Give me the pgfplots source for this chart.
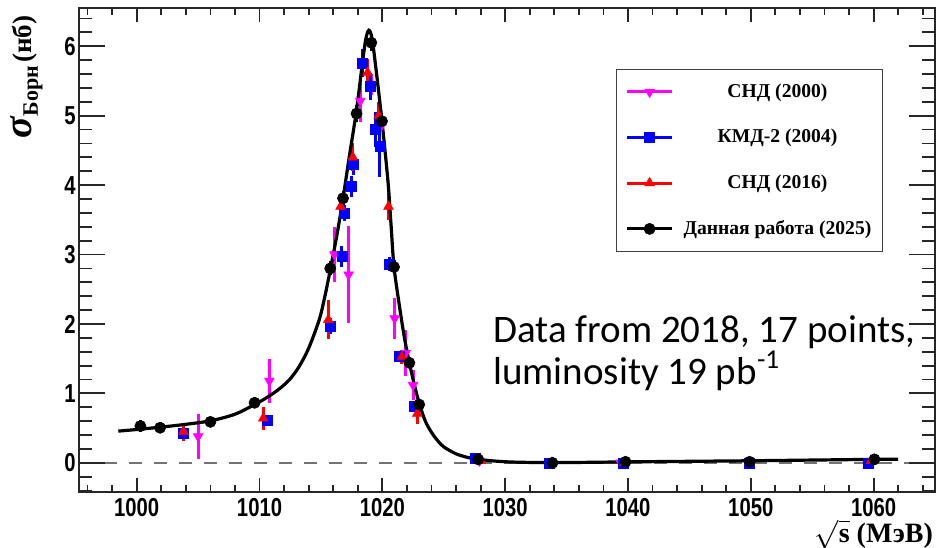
\documentclass[border=0pt]{standalone}
\usepackage{fontspec}
\setmainfont{Liberation Serif}
\newfontfamily\lsans{Liberation Sans}
\newfontfamily\carlito{Carlito}
\usepackage{pgfplots}
\usepackage{pgfplotstable}
\pgfplotsset{compat=1.18}
\definecolor{mag}{RGB}{255,0,255}
\definecolor{blu}{RGB}{0,0,255}
\definecolor{rd}{RGB}{255,0,0}

\pgfplotstableread{
x y ey
1005.0 0.38 0.32
1010.8 1.18 0.32
1016.1 3.00 0.40
1017.25 2.71 0.70
1018.2 5.21 0.30
1019.1 5.45 0.15
1019.8 4.82 0.32
1021.0 2.08 0.30
1021.9 1.58 0.33
1022.5 1.12 0.22
1027.9 0.03 0.04
1039.4 0.00 0.04
}\sndA

\pgfplotstableread{
x y ey
1003.8 0.43 0.08
1010.6 0.61 0.08
1015.8 1.97 0.12
1016.7 2.97 0.15
1016.9 3.60 0.12
1017.5 3.98 0.15
1017.65 4.30 0.15
1018.4 5.76 0.20
1019.0 5.42 0.20
1019.45 4.80 0.25
1019.8 4.56 0.45
1020.55 2.86 0.10
1021.4 1.53 0.08
1022.6 0.81 0.07
1027.6 0.06 0.03
1033.6 -0.01 0.03
1039.6 0.00 0.03
1049.9 0.00 0.03
1059.6 0.00 0.03
}\kmd

\pgfplotstableread{
x y ey
1003.8 0.45 0.13
1010.3 0.64 0.16
1015.6 2.06 0.28
1016.6 3.69 0.15
1017.6 4.40 0.20
1018.8 5.62 0.20
1019.7 5.00 0.20
1020.5 3.69 0.20
1021.6 1.53 0.10
1022.85 0.71 0.15
1028.0 0.03 0.05
1033.8 0.00 0.06
1039.7 0.00 0.05
1049.9 0.01 0.08
1059.8 0.03 0.08
}\sndB

\pgfplotstableread{
x y ex ey
1000.3 0.53 0.35 0.09
1001.9 0.505 0.35 0.08
1006.0 0.59 0.35 0.05
1009.6 0.865 0.35 0.08
1015.76 2.80 0.35 0.10
1016.8 3.81 0.35 0.10
1017.9 5.03 0.35 0.12
1019.1 6.05 0.35 0.12
1019.97 4.92 0.35 0.12
1020.95 2.82 0.35 0.10
1022.2 1.44 0.35 0.08
1023.0 0.84 0.35 0.07
1027.8 0.05 0.35 0.03
1033.85 0.00 0.35 0.03
1039.8 0.015 0.35 0.03
1049.9 0.015 0.35 0.03
1060.07 0.05 0.35 0.03
}\ours

\pgfplotstableread{
x y
998.5 0.457
1000 0.48
1002 0.515
1004 0.555
1006 0.605
1008 0.70
1009.6 0.84
1010.5 0.93
1011.5 1.05
1012.4 1.19
1013.2 1.38
1014 1.65
1014.86 2.06
1015.3 2.38
1015.76 2.78
1016.3 3.28
1016.8 3.81
1017.3 4.40
1017.9 5.08
1018.35 5.72
1018.65 6.10
1018.9 6.23
1019.15 6.12
1019.45 5.72
1019.97 4.92
1020.46 4.05
1020.7 3.45
1020.95 2.82
1021.4 2.25
1021.8 1.80
1022.2 1.44
1022.6 1.13
1023.0 0.86
1023.5 0.60
1024.0 0.44
1024.5 0.32
1025.0 0.23
1026.0 0.13
1027.0 0.075
1027.8 0.05
1029 0.028
1030.5 0.012
1033 0.004
1036 0.006
1040 0.014
1045 0.022
1050 0.03
1055 0.04
1060 0.05
1062 0.053
}\fit

\begin{document}
\begin{tikzpicture}
\begin{axis}[
  scale only axis, width=428pt, height=242pt,
  xmin=995.3, xmax=1065, ymin=-0.42, ymax=6.55,
  xtick={990,1000,...,1070}, minor x tick num=4,
  ytick={-1,0,...,7},
  major tick length=7pt, minor tick length=3.5pt,
  axis line style={line width=0.9pt, black!85},
  tick style={line width=0.9pt, black!85},
  ytick style={draw=none},
  /pgf/number format/.cd, 1000 sep={}, assume math mode=true, /pgfplots/.cd,
  xticklabel style={font=\lsans\bfseries\fontsize{13}{13}\selectfont, xscale=0.78, inner sep=0pt, yshift=-3pt},
  yticklabel style={font=\lsans\bfseries\fontsize{13}{13}\selectfont, xscale=0.78, inner sep=0pt, xshift=-2pt},
  xlabel={\bfseries$\sqrt{\textrm{\bfseries s}}$ (МэВ)},
  xlabel style={at={(axis description cs:0.998,-0.088)}, anchor=east, font=\fontsize{14}{14}\selectfont, inner sep=0pt},
  ylabel={{\fontsize{20}{20}\selectfont\bfseries\itshape σ}\raisebox{-3pt}{\fontsize{11}{11}\selectfont\bfseries Борн}\,{\fontsize{13.5}{13.5}\selectfont\bfseries (нб)}},
  ylabel style={at={(axis description cs:-0.061,0.985)}, anchor=east, inner sep=0pt},
  legend style={at={(rel axis cs:0.6273,0.874)}, anchor=north west, draw=black!75, line width=0.6pt, fill=white,
    inner xsep=4.5pt, inner ysep=6pt, row sep=12.5pt, column sep=4pt,
    font=\fontsize{9.8}{11}\selectfont\bfseries, nodes={inner sep=1pt}},
  legend cell align=center,
  legend image code/.code={\draw[mark repeat=2,mark phase=2] plot coordinates {(0pt,0pt) (11.25pt,0pt) (22.5pt,0pt)};},
]
\addplot[forget plot, black!55, line width=1pt, dash pattern=on 6.5pt off 6pt] coordinates {(995.3,0) (1065,0)};

\addplot[forget plot, only marks, mag, mark=triangle*, mark size=2.8pt, mark options={rotate=180, line width=0.3pt},
  error bars/.cd, y dir=both, y explicit, error mark=none, error bar style={line width=1.5pt, mag}]
  table[x=x, y=y, y error=ey]{\sndA};
\addplot[forget plot, only marks, blu, mark=square*, mark size=2.5pt, mark options={line width=0.3pt},
  error bars/.cd, y dir=both, y explicit, error mark=none, error bar style={line width=1.5pt, blu}]
  table[x=x, y=y, y error=ey]{\kmd};
\addplot[forget plot, only marks, rd, mark=triangle*, mark size=2.8pt, mark options={line width=0.3pt},
  error bars/.cd, y dir=both, y explicit, error mark=none, error bar style={line width=1.5pt, rd}]
  table[x=x, y=y, y error=ey]{\sndB};
\addplot[forget plot, black, line width=1.6pt, smooth, tension=0.5] table[x=x, y=y]{\fit};
\addplot[forget plot, only marks, black, mark=*, mark size=2.8pt, mark options={line width=0.3pt},
  error bars/.cd, x dir=both, x explicit, y dir=both, y explicit, error mark=none, error bar style={line width=1.5pt, black}]
  table[x=x, y=y, x error=ex, y error=ey]{\ours};

\addlegendimage{mag, line width=1.5pt, mark=triangle*, mark size=2.8pt, mark options={solid, line width=0.3pt, rotate=180}}
\addlegendentry{СНД (2000)}
\addlegendimage{blu, line width=1.5pt, mark=square*, mark size=2.5pt, mark options={solid, line width=0.3pt}}
\addlegendentry{КМД-2 (2004)}
\addlegendimage{rd, line width=1.5pt, mark=triangle*, mark size=2.8pt, mark options={solid, line width=0.3pt}}
\addlegendentry{СНД (2016)}
\addlegendimage{black, line width=1.5pt, mark=*, mark size=2.8pt, mark options={solid, line width=0.3pt}}
\addlegendentry{Данная работа (2025)}

\node[anchor=base west, inner sep=0pt, font=\carlito\fontsize{19.5}{23}\selectfont] at (rel axis cs:0.4836,0.3079) {Data from 2018, 17 points,};
\node[anchor=base west, inner sep=0pt, font=\carlito\fontsize{19.5}{23}\selectfont] at (rel axis cs:0.4836,0.2231) {luminosity 19 pb\textsuperscript{-1}};
\end{axis}
\begin{axis}[
  scale only axis, width=428pt, height=242pt,
  xmin=995.3, xmax=1065, ymin=-0.42, ymax=6.55,
  hide x axis, ytick={-1,0,...,7}, yticklabels={}, minor y tick num=4,
  major tick length=13pt, minor tick length=6.5pt,
  axis line style={line width=0.9pt, black!85},
  tick style={line width=0.9pt, black!85},
]
\addplot[draw=none] coordinates {(1000,0)};
\end{axis}
\pgfresetboundingbox
\useasboundingbox (-39.5pt,-27.5pt) rectangle (428.5pt,246pt);
\end{tikzpicture}
\end{document}
